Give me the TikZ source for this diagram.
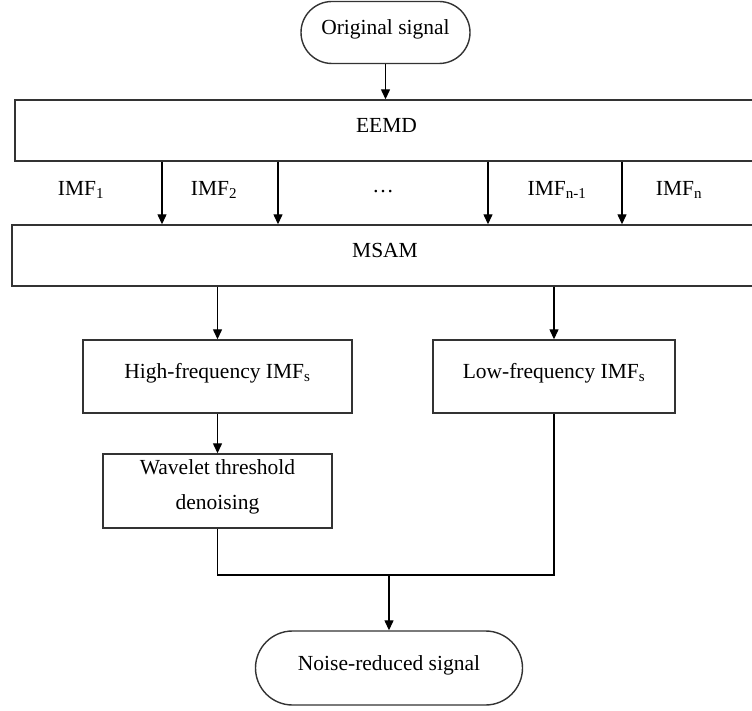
\documentclass[tikz,border=0pt]{standalone}
\usepackage{fontspec}
\setmainfont{Liberation Serif}
\usetikzlibrary{arrows.meta, positioning}

\begin{document}
\begin{tikzpicture}[
  x=1pt, y=-1pt,
  every node/.style={font=\fontsize{21.5}{26}\selectfont},
  box/.style={rectangle, draw=black!80, line width=1.4pt, inner sep=0pt, text height=15pt, text depth=11pt},
  term/.style={box, rounded corners=#1},
  arrow/.style={-{Triangle[length=10pt, width=9pt]}, line width=1.3pt},
  link/.style={line width=1.3pt},
  lbl/.style={inner sep=0pt},
]
  \useasboundingbox (0,0) rectangle (752,711);

  \node[term=31pt, minimum width=169pt, minimum height=62pt] (orig) at (385.5,32.5) {Original signal};
  \node[box, minimum width=743pt, minimum height=61pt] (eemd) at (386.5,130.5) {EEMD};
  \node[box, minimum width=746pt, minimum height=61pt] (msam) at (385,255.5) {MSAM};
  \node[box, minimum width=269pt, minimum height=73pt] (high) at (217.5,376.5) {High-frequency IMF\textsubscript{s}};
  \node[box, minimum width=242pt, minimum height=73pt] (low) at (554,376.5) {Low-frequency IMF\textsubscript{s}};
  \node[box, align=center, minimum width=229pt, minimum height=74pt, text height=42pt, text depth=6pt, font=\fontsize{21.5}{35}\selectfont] (wave) at (217.5,491) {Wavelet threshold\\denoising};
  \node[term=37pt, minimum width=267pt, minimum height=74pt] (noise) at (389,668) {Noise-reduced signal};

  % IMF labels between the two bars
  \node[lbl] (imf1) at (81,190) {IMF\textsubscript{1}};
  \node[lbl] (imf2) at (214,190) {IMF\textsubscript{2}};
  \node[lbl] (dots) at (383,192) {\ldots};
  \node[lbl] (imfm) at (557,190) {IMF\textsubscript{n-1}};
  \node[lbl] (imfn) at (679,190) {IMF\textsubscript{n}};

  \draw[arrow] (orig.south) -- (orig.south |- eemd.north);
  \foreach \xx [count=\i] in {162,278,488,622} {
    \coordinate (c\i) at (\xx,0);
    \draw[arrow] (eemd.south -| c\i) -- (msam.north -| c\i);
  }
  \draw[arrow] (msam.south -| high.north) -- (high.north);
  \draw[arrow] (msam.south -| low.north) -- (low.north);
  \draw[arrow] (high.south) -- (wave.north);

  \coordinate (join) at (389,575);
  \draw[link] (wave.south) |- (join) -| (low.south);
  \draw[arrow] (join) -- (noise.north);
\end{tikzpicture}
\end{document}
